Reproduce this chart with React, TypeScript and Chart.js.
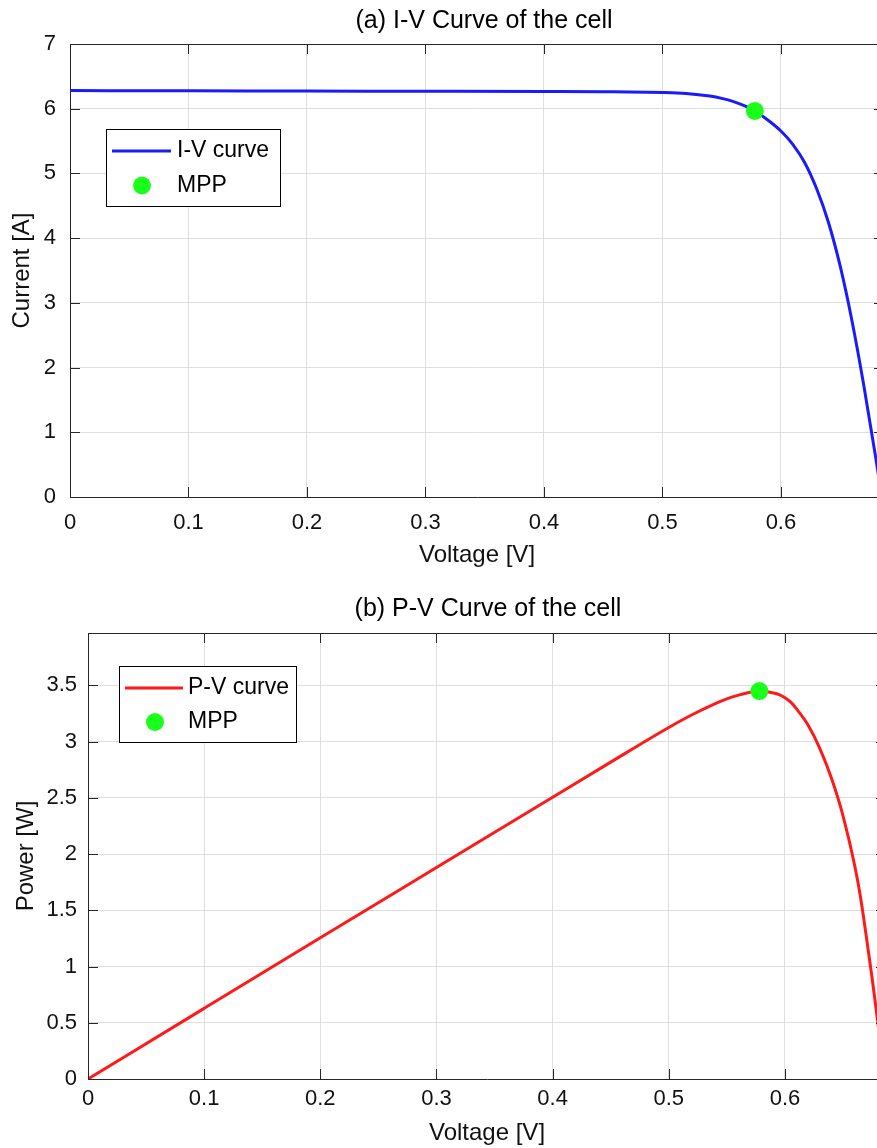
import React, { useEffect, useRef } from "react";
import { Chart, registerables } from "chart.js";

Chart.register(...registerables);

// ---------- data ----------
const ivVoltage = [0, 0.1, 0.2, 0.3, 0.4, 0.45, 0.5, 0.52, 0.54, 0.55, 0.56, 0.57, 0.578, 0.59, 0.6, 0.61, 0.62, 0.63, 0.64, 0.65, 0.66, 0.67, 0.68, 0.6852];
const ivCurrent = [6.28, 6.277, 6.273, 6.27, 6.266, 6.262, 6.25, 6.235, 6.195, 6.16, 6.11, 6.04, 5.965, 5.81, 5.655, 5.45, 5.17, 4.77, 4.25, 3.57, 2.72, 1.72, 0.61, 0];

const pvVoltage = [0, 0.1, 0.2, 0.3, 0.4, 0.45, 0.5, 0.52, 0.54, 0.55, 0.56, 0.57, 0.578, 0.59, 0.595, 0.6, 0.605, 0.61, 0.62, 0.63, 0.64, 0.65, 0.66, 0.665, 0.67, 0.675, 0.68, 0.6862];
const pvPower = [0, 0.628, 1.255, 1.88, 2.505, 2.817, 3.125, 3.238, 3.338, 3.38, 3.413, 3.438, 3.449, 3.432, 3.418, 3.39, 3.35, 3.29, 3.145, 2.94, 2.675, 2.34, 1.9, 1.62, 1.27, 0.9, 0.5, 0];

const mppVoltage = [0.578];
const mppCurrent = [5.965];
const mppPower = [3.449];

const xTickValues = [0, 0.1, 0.2, 0.3, 0.4, 0.5, 0.6];
const ivYTickValues = [0, 1, 2, 3, 4, 5, 6, 7];
const pvYTickValues = [0, 0.5, 1, 1.5, 2, 2.5, 3, 3.5];

const ivTitle = "(a) I-V Curve of the cell";
const pvTitle = "(b) P-V Curve of the cell";
const xLabel = "Voltage [V]";
const ivYLabel = "Current [A]";
const pvYLabel = "Power [W]";
const ivLegend = ["I-V curve", "MPP"];
const pvLegend = ["P-V curve", "MPP"];

// ---------- styling ----------
const FONT = "'Liberation Sans', Arial, Helvetica, sans-serif";
const AXIS = "#262626";
const GRID = "#dedede";
const BLUE = "#1a1aff";
const RED = "#ff1a1a";
const GREEN = "#1aff1a";

const fmt = (v: number) => String(Math.round(v * 1000) / 1000);

const framePlugin = {
  id: "frame",
  afterDraw(chart: any, _args: any, opts: any) {
    const { ctx, chartArea, scales } = chart;
    const { left, right, top, bottom } = chartArea;
    ctx.save();
    ctx.strokeStyle = AXIS;
    ctx.lineWidth = 1;
    ctx.beginPath();
    ctx.moveTo(left, Math.round(top) + 0.5);
    ctx.lineTo(right, Math.round(top) + 0.5);
    ctx.moveTo(Math.round(right) + 0.5, top);
    ctx.lineTo(Math.round(right) + 0.5, bottom);
    ctx.stroke();
    const tl = 10;
    ctx.beginPath();
    for (const v of opts.xTicks) {
      const px = Math.round(scales.x.getPixelForValue(v)) + 0.5;
      ctx.moveTo(px, bottom);
      ctx.lineTo(px, bottom - tl);
      ctx.moveTo(px, top);
      ctx.lineTo(px, top + tl);
    }
    for (const v of opts.yTicks) {
      const py = Math.round(scales.y.getPixelForValue(v)) + 0.5;
      ctx.moveTo(left, py);
      ctx.lineTo(left + tl, py);
      ctx.moveTo(right, py);
      ctx.lineTo(right - tl, py);
    }
    ctx.stroke();

    ctx.fillStyle = "#000";
    ctx.font = `25px ${FONT}`;
    ctx.textAlign = "center";
    ctx.textBaseline = "alphabetic";
    ctx.fillText(opts.title, opts.titleX, opts.titleY);

    const lg = opts.legend;
    ctx.fillStyle = "#fff";
    ctx.fillRect(lg.x0, lg.y0, lg.x1 - lg.x0, lg.y1 - lg.y0);
    ctx.strokeStyle = "#000";
    ctx.lineWidth = 1;
    ctx.strokeRect(lg.x0 + 0.5, lg.y0 + 0.5, lg.x1 - lg.x0, lg.y1 - lg.y0);
    ctx.strokeStyle = lg.lineColor;
    ctx.lineWidth = 3;
    ctx.beginPath();
    ctx.moveTo(lg.lineX0, lg.row1);
    ctx.lineTo(lg.lineX1, lg.row1);
    ctx.stroke();
    ctx.fillStyle = GREEN;
    ctx.beginPath();
    ctx.arc(lg.markerX, lg.row2, 9, 0, Math.PI * 2);
    ctx.fill();
    ctx.fillStyle = "#000";
    ctx.font = `23px ${FONT}`;
    ctx.textAlign = "left";
    ctx.textBaseline = "middle";
    ctx.fillText(lg.labels[0], lg.textX, lg.row1);
    ctx.fillText(lg.labels[1], lg.textX, lg.row2);
    ctx.restore();
  },
};

function makeConfig(p: any) {
  return {
    type: "line",
    data: {
      datasets: [
        {
          label: p.legend.labels[1],
          data: p.mpp,
          showLine: false,
          pointRadius: 9,
          pointHoverRadius: 9,
          pointBackgroundColor: GREEN,
          pointBorderWidth: 0,
          borderWidth: 0,
        },
        {
          label: p.legend.labels[0],
          data: p.curve,
          borderColor: p.color,
          borderWidth: 3,
          pointRadius: 0,
          fill: false,
          cubicInterpolationMode: "monotone",
        },
      ],
    },
    options: {
      animation: false,
      responsive: false,
      devicePixelRatio: 1,
      events: [],
      layout: { padding: { left: 0, top: p.padTop, right: p.padRight, bottom: 0 } },
      plugins: {
        legend: { display: false },
        title: { display: false },
        tooltip: { enabled: false },
        frame: {
          xTicks: xTickValues,
          yTicks: p.yTicks,
          title: p.title,
          titleX: p.titleX,
          titleY: p.titleY,
          legend: p.legend,
        },
      },
      scales: {
        x: {
          type: "linear",
          position: "bottom",
          min: 0,
          max: 0.687,
          afterBuildTicks: (s: any) => {
            s.ticks = xTickValues.map((v) => ({ value: v }));
          },
          afterFit: (s: any) => {
            s.height = p.xHeight;
          },
          grid: { color: GRID, lineWidth: 1, drawTicks: false },
          border: { display: true, color: AXIS, width: 1 },
          ticks: {
            padding: p.xTickPad,
            color: "#111",
            font: { family: FONT, size: 22 },
            maxRotation: 0,
            autoSkip: false,
            callback: (v: any) => fmt(Number(v)),
          },
          title: {
            display: true,
            text: xLabel,
            color: "#111",
            font: { family: FONT, size: 24 },
            padding: { top: 0, bottom: p.xTitlePad },
          },
        },
        y: {
          type: "linear",
          min: 0,
          max: p.yMax,
          afterBuildTicks: (s: any) => {
            s.ticks = p.yTicks.map((v: number) => ({ value: v }));
          },
          afterFit: (s: any) => {
            s.width = p.yWidth;
          },
          grid: { color: GRID, lineWidth: 1, drawTicks: false },
          border: { display: true, color: AXIS, width: 1 },
          ticks: {
            padding: p.yTickPad,
            color: "#111",
            font: { family: FONT, size: 22 },
            autoSkip: false,
            callback: (v: any) => fmt(Number(v)),
          },
          title: {
            display: true,
            text: p.yLabel,
            color: "#111",
            font: { family: FONT, size: 24 },
            padding: { top: p.yTitlePad, bottom: 0 },
          },
        },
      },
    },
    plugins: [framePlugin],
  };
}

function PlotCanvas({ params, width, height }: any) {
  const ref = useRef<HTMLCanvasElement | null>(null);
  useEffect(() => {
    if (!ref.current) return;
    const chart = new Chart(ref.current, makeConfig(params) as any);
    return () => chart.destroy();
  }, []);
  return <canvas ref={ref} width={width} height={height} style={{ display: "block", width, height }} />;
}

export default function App() {
  const ivParams = {
    curve: ivVoltage.map((v, i) => ({ x: v, y: ivCurrent[i] })),
    mpp: mppVoltage.map((v, i) => ({ x: v, y: mppCurrent[i] })),
    color: BLUE,
    yMax: 7,
    yTicks: ivYTickValues,
    yLabel: ivYLabel,
    title: ivTitle,
    titleX: 476,
    titleY: 19.5,
    padTop: 36,
    padRight: 24,
    xHeight: 73,
    yWidth: 62,
    xTickPad: 13,
    yTickPad: 14,
    xTitlePad: 0,
    yTitlePad: 0,
    legend: {
      x0: 98, y0: 121, x1: 272, y1: 198,
      lineX0: 104, lineX1: 163, row1: 143, row2: 177.5,
      markerX: 134, textX: 169,
      lineColor: BLUE,
      labels: ivLegend,
    },
  };
  const pvParams = {
    curve: pvVoltage.map((v, i) => ({ x: v, y: pvPower[i] })),
    mpp: mppVoltage.map((v, i) => ({ x: v, y: mppPower[i] })),
    color: RED,
    yMax: 3.965,
    yTicks: pvYTickValues,
    yLabel: pvYLabel,
    title: pvTitle,
    titleX: 480,
    titleY: 46,
    padTop: 63,
    padRight: 22,
    xHeight: 69,
    yWidth: 80,
    xTickPad: 7,
    yTickPad: 11,
    xTitlePad: 0,
    yTitlePad: 3.5,
    legend: {
      x0: 111, y0: 96, x1: 288, y1: 172,
      lineX0: 117, lineX1: 175, row1: 118, row2: 152,
      markerX: 147, textX: 180,
      lineColor: RED,
      labels: pvLegend,
    },
  };
  return (
    <div
      style={{
        position: "fixed",
        left: 8,
        top: 8,
        width: 869,
        height: 1140,
        overflow: "hidden",
        background: "#fff",
      }}
    >
      <PlotCanvas params={ivParams} width={900} height={562} />
      <PlotCanvas params={pvParams} width={900} height={578} />
    </div>
  );
}
